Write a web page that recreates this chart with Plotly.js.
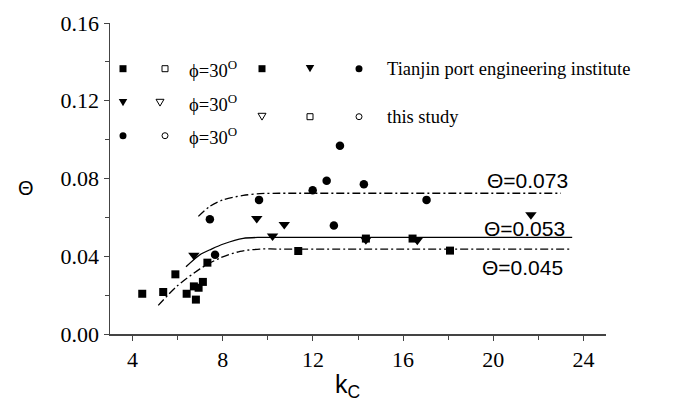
<!DOCTYPE html>
<html>
<head>
<meta charset="utf-8">
<script src="https://cdn.plot.ly/plotly-3.0.1.min.js"></script>
<style>html,body{margin:0;padding:0;background:#fff;}#chart{width:677px;height:402px;}</style>
</head>
<body>
<div id="chart"></div>
<script>
// ---- data ----
// Tianjin port engineering institute (filled markers)
const kcSquareT = [4.43, 5.36, 5.90, 6.40, 6.72, 6.93, 6.81, 7.12, 7.32, 11.35, 14.35, 16.42, 18.08];
const thSquareT = [0.0207, 0.0216, 0.0307, 0.0207, 0.0245, 0.0238, 0.0177, 0.0268, 0.0367, 0.0427, 0.0491, 0.0491, 0.0429];
const kcTriT = [6.72, 9.51, 10.73, 10.21, 14.35, 16.63, 21.67];
const thTriT = [0.0405, 0.0594, 0.0563, 0.0504, 0.0485, 0.0482, 0.0613];
const kcCircT = [7.43, 7.66, 9.61, 11.99, 12.61, 13.20, 12.93, 14.26, 17.04];
const thCircT = [0.0590, 0.0408, 0.0690, 0.0739, 0.0789, 0.0969, 0.0558, 0.0770, 0.0690];
// this study (open markers)
const kcSquareS = [16.01];
const thSquareS = [0.0419];
const kcTriS = [18.18];
const thTriS = [0.0544];
const kcCircS = [19.63];
const thCircS = [0.0630];
// threshold curves
const kcUpper = [6.92, 7.43, 8.03, 8.91, 9.65, 10.5, 12.0, 23.0];
const thUpper = [0.0605, 0.0657, 0.0691, 0.0713, 0.0722, 0.0724, 0.0724, 0.0724];
const kcMid = [6.37, 6.99, 7.5, 8.03, 8.91, 9.65, 10.5, 12.0, 23.5];
const thMid = [0.0346, 0.0408, 0.0437, 0.0463, 0.0492, 0.0497, 0.0497, 0.0497, 0.0497];
const kcLower = [5.14, 5.96, 6.99, 7.88, 8.77, 9.65, 10.5, 12.0, 23.5];
const thLower = [0.0147, 0.0245, 0.0335, 0.0391, 0.0425, 0.0437, 0.0437, 0.0437, 0.0437];
const curveLabels = ['\u0398=0.073', '\u0398=0.053', '\u0398=0.045'];
const legendText = ['\u03d5=30<sup>O</sup>', 'Tianjin port engineering institute', 'this study'];
const xTitle = 'k<sub>C</sub>';
const yTitle = '\u0398';

// ---- traces ----
const DD = '8px,3px,2px,3px';
function line(x, y, dash) {
  return {x: x, y: y, mode: 'lines', type: 'scatter', hoverinfo: 'skip',
    line: {color: '#000', width: 1.3, dash: dash, shape: 'spline', smoothing: 0.8}};
}
function pts(x, y, symbol, size, open) {
  return {x: x, y: y, mode: 'markers', type: 'scatter',
    marker: {symbol: symbol, size: size, color: open ? 'rgba(0,0,0,0)' : '#000',
      line: {color: '#000', width: open ? 1 : 0}}};
}
const traces = [
  line(kcUpper, thUpper, DD),
  line(kcMid, thMid, 'solid'),
  line(kcLower, thLower, DD),
  pts(kcSquareT, thSquareT, 'square', 8, false),
  pts(kcTriT, thTriT, 'triangle-down', 10, false),
  pts(kcCircT, thCircT, 'circle', 8.5, false),
  pts(kcSquareS, thSquareS, 'square-open', 6, true),
  pts(kcTriS, thTriS, 'triangle-down-open', 8, true),
  pts(kcCircS, thCircS, 'circle-open', 7, true)
];

// ---- legend block drawn as shapes/annotations in paper coords ----
const L = 110, R = 606, T = 23.3, B = 334.3;
const px = v => (v - L) / (R - L);
const py = v => (B - v) / (B - T);
const shapes = [];
function sq(cx, cy, s, open) {
  shapes.push({type: 'rect', xref: 'paper', yref: 'paper', x0: px(cx - s / 2), x1: px(cx + s / 2), y0: py(cy + s / 2), y1: py(cy - s / 2),
    fillcolor: open ? 'rgba(0,0,0,0)' : '#000', line: {color: '#000', width: open ? 1 : 0}});
}
function ci(cx, cy, s, open) {
  shapes.push({type: 'circle', xref: 'paper', yref: 'paper', x0: px(cx - s / 2), x1: px(cx + s / 2), y0: py(cy + s / 2), y1: py(cy - s / 2),
    fillcolor: open ? 'rgba(0,0,0,0)' : '#000', line: {color: '#000', width: open ? 1 : 0}});
}
function tr(cx, cy, s, open) {
  const h = s * 0.85;
  const p = 'M' + px(cx - s / 2) + ',' + py(cy - h / 2) + ' L' + px(cx + s / 2) + ',' + py(cy - h / 2) + ' L' + px(cx) + ',' + py(cy + h / 2) + ' Z';
  shapes.push({type: 'path', xref: 'paper', yref: 'paper', path: p,
    fillcolor: open ? 'rgba(0,0,0,0)' : '#000', line: {color: '#000', width: open ? 1 : 0}});
}
// row 1
sq(123, 69, 7, false); sq(165, 69, 6, true);
sq(262, 69, 7, false); tr(310, 69, 8.5, false); ci(359, 69, 7, false);
// row 2
tr(123, 103, 8.5, false); tr(160, 103, 8, true);
tr(262, 117, 8, true); sq(310, 117, 6, true); ci(359, 117, 6, true);
// row 3
ci(123, 136, 7, false); ci(165, 136, 6, true);

const SERIF = '"Liberation Serif", "Times New Roman", Times, serif';
const SANS = '"Liberation Sans", Arial, sans-serif';
const serif = {family: SERIF, size: 18.5, color: '#000'};
const sans = {family: SANS, size: 21, color: '#000'};
const annotations = [
  {xref: 'paper', yref: 'paper', x: px(187), y: py(69), text: legendText[0], xanchor: 'left', yanchor: 'middle', showarrow: false, font: serif},
  {xref: 'paper', yref: 'paper', x: px(187), y: py(103), text: legendText[0], xanchor: 'left', yanchor: 'middle', showarrow: false, font: serif},
  {xref: 'paper', yref: 'paper', x: px(187), y: py(136), text: legendText[0], xanchor: 'left', yanchor: 'middle', showarrow: false, font: serif},
  {xref: 'paper', yref: 'paper', x: px(385), y: py(69), text: legendText[1], xanchor: 'left', yanchor: 'middle', showarrow: false, font: serif},
  {xref: 'paper', yref: 'paper', x: px(385), y: py(117), text: legendText[2], xanchor: 'left', yanchor: 'middle', showarrow: false, font: serif},
  {x: 21.54, y: 0.0789, text: curveLabels[0], showarrow: false, font: sans},
  {x: 21.40, y: 0.0542, text: curveLabels[1], showarrow: false, font: sans},
  {x: 21.31, y: 0.0340, text: curveLabels[2], showarrow: false, font: sans},
  // axis titles
  {xref: 'paper', yref: 'paper', x: px(347), y: py(386), text: xTitle, xanchor: 'center', yanchor: 'middle', showarrow: false,
    font: {family: SANS, size: 25, color: '#000'}},
  {xref: 'paper', yref: 'paper', x: px(26), y: py(188), text: yTitle, xanchor: 'center', yanchor: 'middle', showarrow: false,
    font: {family: SANS, size: 20, color: '#000'}}
];

const axCol = '#444';
const tickFont = {family: SERIF, size: 22, color: '#000'};
const layout = {
  width: 677, height: 402,
  margin: {l: 110, r: 71, t: 23, b: 68, pad: 0},
  paper_bgcolor: '#fff', plot_bgcolor: '#fff',
  font: {family: SERIF, size: 22, color: '#000'},
  showlegend: false,
  xaxis: {
    range: [3, 25], tick0: 0, dtick: 4, ticks: 'outside', ticklen: 5, tickwidth: 1, tickcolor: axCol,
    showline: true, linecolor: axCol, linewidth: 1.5, showgrid: false, zeroline: false,
    tickfont: tickFont,
    minor: {dtick: 2, tick0: 0, ticks: 'outside', ticklen: 4, tickcolor: axCol, showgrid: false}
  },
  yaxis: {
    range: [0, 0.16], tick0: 0, dtick: 0.04, tickformat: '.2f', ticks: 'outside', ticklen: 5, tickwidth: 1, tickcolor: axCol,
    showline: true, linecolor: axCol, linewidth: 1.5, showgrid: false, zeroline: false,
    tickfont: tickFont,
    minor: {dtick: 0.02, tick0: 0, ticks: 'outside', ticklen: 4, tickcolor: axCol, showgrid: false}
  },
  shapes: shapes,
  annotations: annotations
};
Plotly.newPlot('chart', traces, layout, {displayModeBar: false, staticPlot: true});
</script>
</body>
</html>
